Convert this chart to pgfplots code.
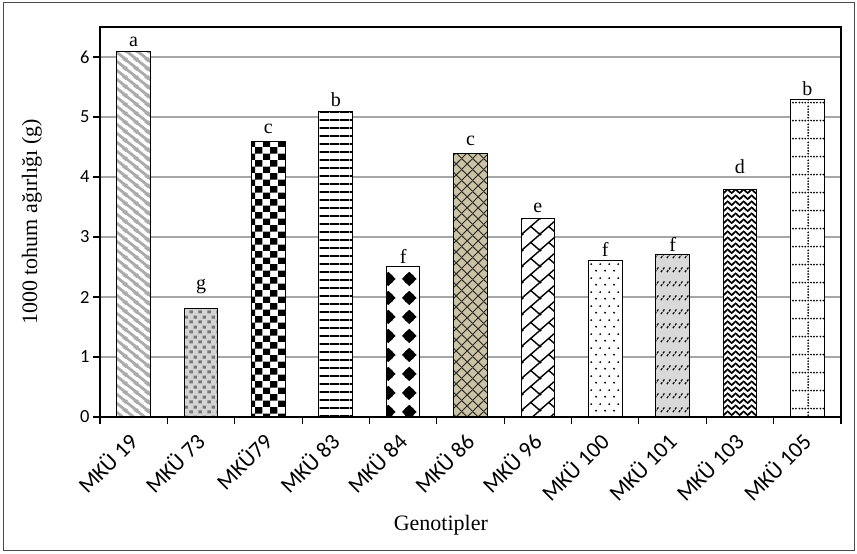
\documentclass[border=0pt]{standalone}
\usepackage{pgfplots}
\pgfplotsset{compat=1.18}
\usepackage{fontspec}
\setmainfont{Liberation Serif}
\newfontfamily\calibri{Carlito}
\newcommand\xl{\calibri\fontsize{22.5}{24}\selectfont}
\usetikzlibrary{patterns}

\definecolor{g19}{HTML}{ABABAB}
\definecolor{bg73}{HTML}{D4D4D4}
\definecolor{fg73}{HTML}{767676}
\definecolor{bg86}{HTML}{CBC3A3}
\definecolor{bg101}{HTML}{D9D9D9}
\definecolor{gridc}{HTML}{A6A6A6}

% MKU 19: wide gray diagonal stripes
\pgfdeclarepatternformonly{p19}{\pgfqpoint{0pt}{0pt}}{\pgfqpoint{10.5pt}{9pt}}{\pgfqpoint{10.5pt}{9pt}}{%
 \pgfsetlinewidth{3pt}%
 \pgfpathmoveto{\pgfqpoint{-5.25pt}{4.5pt}}\pgfpathlineto{\pgfqpoint{5.25pt}{-4.5pt}}%
 \pgfpathmoveto{\pgfqpoint{-2.1pt}{10.8pt}}\pgfpathlineto{\pgfqpoint{12.6pt}{-1.8pt}}%
 \pgfpathmoveto{\pgfqpoint{5.25pt}{13.5pt}}\pgfpathlineto{\pgfqpoint{15.75pt}{4.5pt}}%
 \pgfusepath{stroke}}
% MKU 73: small squares
\pgfdeclarepatternformonly{p73}{\pgfqpoint{0pt}{0pt}}{\pgfqpoint{9pt}{10pt}}{\pgfqpoint{9pt}{10pt}}{%
 \pgfpathrectangle{\pgfqpoint{0.5pt}{0.8pt}}{\pgfqpoint{3.6pt}{3.2pt}}%
 \pgfpathrectangle{\pgfqpoint{5pt}{5.8pt}}{\pgfqpoint{3.6pt}{3.2pt}}%
 \pgfusepath{fill}}
% MKU 79: checkerboard
\pgfdeclarepatternformonly{p79}{\pgfqpoint{0pt}{0pt}}{\pgfqpoint{14.6pt}{13.4pt}}{\pgfqpoint{14.6pt}{13.4pt}}{%
 \pgfpathrectangle{\pgfqpoint{0pt}{0pt}}{\pgfqpoint{7.3pt}{6.7pt}}%
 \pgfpathrectangle{\pgfqpoint{7.3pt}{6.7pt}}{\pgfqpoint{7.3pt}{6.7pt}}%
 \pgfusepath{fill}}
% MKU 83: horizontal lines
\pgfdeclarepatternformonly{p83}{\pgfqpoint{0pt}{0pt}}{\pgfqpoint{10pt}{8.4pt}}{\pgfqpoint{10pt}{8.4pt}}{%
 \pgfpathrectangle{\pgfqpoint{0pt}{3.3pt}}{\pgfqpoint{10pt}{1.8pt}}\pgfusepath{fill}}
% MKU 84: rounded stars
\pgfdeclarepatternformonly{p84}{\pgfqpoint{0pt}{0pt}}{\pgfqpoint{21pt}{19pt}}{\pgfqpoint{21pt}{19pt}}{%
 \pgfpathcircle{\pgfqpoint{10.5pt}{9.5pt}}{5.7pt}\pgfusepath{fill}%
 \pgfpathmoveto{\pgfqpoint{3pt}{9.5pt}}\pgfpathlineto{\pgfqpoint{10.5pt}{2pt}}%
 \pgfpathlineto{\pgfqpoint{18pt}{9.5pt}}\pgfpathlineto{\pgfqpoint{10.5pt}{17pt}}\pgfpathclose
 \pgfusepath{fill}}
% MKU 86: crosshatch
\pgfdeclarepatternformonly{p86}{\pgfqpoint{0pt}{0pt}}{\pgfqpoint{11pt}{11pt}}{\pgfqpoint{11pt}{11pt}}{%
 \pgfsetlinewidth{1pt}%
 \pgfpathmoveto{\pgfqpoint{-1pt}{-1pt}}\pgfpathlineto{\pgfqpoint{12pt}{12pt}}%
 \pgfpathmoveto{\pgfqpoint{-1pt}{12pt}}\pgfpathlineto{\pgfqpoint{12pt}{-1pt}}%
 \pgfusepath{stroke}}
% MKU 96: diagonal brick
\pgfdeclarepatternformonly{p96}{\pgfqpoint{0pt}{0pt}}{\pgfqpoint{18pt}{16pt}}{\pgfqpoint{18pt}{16pt}}{%
 \pgfsetlinewidth{1.5pt}%
 \pgfpathmoveto{\pgfqpoint{-1.8pt}{-1.6pt}}\pgfpathlineto{\pgfqpoint{19.8pt}{17.6pt}}%
 \pgfpathmoveto{\pgfqpoint{9pt}{8pt}}\pgfpathlineto{\pgfqpoint{18pt}{0pt}}%
 \pgfpathmoveto{\pgfqpoint{-1.8pt}{14.4pt}}\pgfpathlineto{\pgfqpoint{1.8pt}{17.6pt}}%
 \pgfpathmoveto{\pgfqpoint{16.2pt}{-1.6pt}}\pgfpathlineto{\pgfqpoint{19.8pt}{1.6pt}}%
 \pgfusepath{stroke}}
% MKU 100: dots
\pgfdeclarepatternformonly{p100}{\pgfqpoint{0pt}{0pt}}{\pgfqpoint{9pt}{14pt}}{\pgfqpoint{9pt}{14pt}}{%
 \pgfpathcircle{\pgfqpoint{2.25pt}{3.5pt}}{1.15pt}%
 \pgfpathcircle{\pgfqpoint{6.75pt}{10.5pt}}{1.15pt}%
 \pgfusepath{fill}}
% MKU 101: short slashes
\pgfdeclarepatternformonly{p101}{\pgfqpoint{0pt}{0pt}}{\pgfqpoint{6pt}{14pt}}{\pgfqpoint{6pt}{14pt}}{%
 \pgfsetlinewidth{1.3pt}%
 \pgfpathmoveto{\pgfqpoint{1pt}{2pt}}\pgfpathlineto{\pgfqpoint{2.6pt}{4pt}}%
 \pgfpathmoveto{\pgfqpoint{3.4pt}{5pt}}\pgfpathlineto{\pgfqpoint{5pt}{7pt}}%
 \pgfusepath{stroke}}
% MKU 103: zigzag
\pgfdeclarepatternformonly{p103}{\pgfqpoint{0pt}{0pt}}{\pgfqpoint{8pt}{6pt}}{\pgfqpoint{8pt}{6pt}}{%
 \pgfsetlinewidth{1.9pt}%
 \pgfpathmoveto{\pgfqpoint{-1pt}{6pt}}\pgfpathlineto{\pgfqpoint{4pt}{1pt}}\pgfpathlineto{\pgfqpoint{9pt}{6pt}}%
 \pgfusepath{stroke}}
% MKU 105: dotted grid
\pgfdeclarepatternformonly{p105}{\pgfqpoint{0pt}{0pt}}{\pgfqpoint{21pt}{18pt}}{\pgfqpoint{21pt}{18pt}}{%
 \pgfpathcircle{\pgfqpoint{1.5pt}{1.5pt}}{1pt}\pgfpathcircle{\pgfqpoint{4.5pt}{1.5pt}}{1pt}%
 \pgfpathcircle{\pgfqpoint{7.5pt}{1.5pt}}{1pt}\pgfpathcircle{\pgfqpoint{10.5pt}{1.5pt}}{1pt}%
 \pgfpathcircle{\pgfqpoint{13.5pt}{1.5pt}}{1pt}\pgfpathcircle{\pgfqpoint{16.5pt}{1.5pt}}{1pt}%
 \pgfpathcircle{\pgfqpoint{19.5pt}{1.5pt}}{1pt}%
 \pgfpathcircle{\pgfqpoint{10.5pt}{4.5pt}}{1pt}\pgfpathcircle{\pgfqpoint{10.5pt}{7.5pt}}{1pt}%
 \pgfpathcircle{\pgfqpoint{10.5pt}{10.5pt}}{1pt}\pgfpathcircle{\pgfqpoint{10.5pt}{13.5pt}}{1pt}%
 \pgfpathcircle{\pgfqpoint{10.5pt}{16.5pt}}{1pt}%
 \pgfusepath{fill}}

\pgfplotsset{
  mybar/.style={ybar, bar width=0.5, bar shift=0pt, draw=black, line width=1pt},
}

\begin{document}
\begin{tikzpicture}
\path[use as bounding box] (0,0) rectangle (857pt,554pt);
\draw[black!70, line width=1pt] (3pt,3pt) rectangle (854pt,551pt);
\begin{axis}[
  at={(100pt,137pt)}, anchor=south west,
  scale only axis, width=741pt, height=390pt,
  ymin=0, ymax=6.5, xmin=-0.5, xmax=10.5,
  ytick={0,1,...,6},
  xtick={-0.5,0.5,...,10.5},
  xticklabel={\relax},
  extra x ticks={0,1,...,10},
  extra x tick labels={\xl MKÜ 19,\xl MKÜ 73,\xl MKÜ79,\xl MKÜ 83,\xl MKÜ 84,\xl MKÜ 86,\xl MKÜ 96,\xl MKÜ 100,\xl MKÜ 101,\xl MKÜ 103,\xl MKÜ 105},
  extra x tick style={major tick length=0pt, grid=none,
     xticklabel style={rotate=45, anchor=east, inner sep=1pt}},
  xticklabel shift=19pt,
  yticklabel shift=0pt,
  tick align=outside,
  major tick length=7pt,
  xtick pos=bottom, ytick pos=left,
  tick style={black, line width=1.1pt},
  yticklabel style={font=\calibri\fontsize{18.5}{20}\selectfont},
  /pgf/number format/assume math mode=true,
  ymajorgrids,
  grid style={gridc, line width=1.2pt},
  axis line style={black, line width=1.4pt},
  ylabel={1000 tohum ağırlığı (g)},
  ylabel style={at={(axis description cs:-0.0918,0.5)}, anchor=center, font=\fontsize{22}{24}\selectfont},
  xlabel={Genotipler},
  xlabel style={at={(axis description cs:0.46,-0.292)}, anchor=base, font=\fontsize{22}{24}\selectfont},
]
\addplot[mybar, fill=white, postaction={pattern=p19, pattern color=g19}] coordinates {(0,6.1)};
\addplot[mybar, fill=bg73, postaction={pattern=p73, pattern color=fg73}] coordinates {(1,1.8)};
\addplot[mybar, fill=white, postaction={pattern=p79, pattern color=black}] coordinates {(2,4.6)};
\addplot[mybar, fill=white, postaction={pattern=p83, pattern color=black}] coordinates {(3,5.1)};
\addplot[mybar, fill=white, postaction={pattern=p84, pattern color=black}] coordinates {(4,2.5)};
\addplot[mybar, fill=bg86, postaction={pattern=p86, pattern color=black!85}] coordinates {(5,4.4)};
\addplot[mybar, fill=white, postaction={pattern=p96, pattern color=black}] coordinates {(6,3.3)};
\addplot[mybar, fill=white, postaction={pattern=p100, pattern color=black}] coordinates {(7,2.6)};
\addplot[mybar, fill=bg101, postaction={pattern=p101, pattern color=black}] coordinates {(8,2.7)};
\addplot[mybar, fill=white, postaction={pattern=p103, pattern color=black}] coordinates {(9,3.8)};
\addplot[mybar, fill=white, postaction={pattern=p105, pattern color=black}] coordinates {(10,5.3)};
% significance letters
\addplot[draw=none, mark=none, nodes near coords, point meta=explicit symbolic,
  nodes near coords style={anchor=south, inner sep=2pt, text=black, font=\fontsize{20}{22}\selectfont}]
  coordinates {(0,6.14)[a] (1,2.02)[g] (2,4.69)[c] (3,5.13)[b] (4,2.53)[f] (5,4.48)[c]
               (6,3.37)[e] (7,2.63)[f] (8,2.73)[f] (9,4.02)[d] (10,5.32)[b]};
\end{axis}
\end{tikzpicture}
\end{document}
